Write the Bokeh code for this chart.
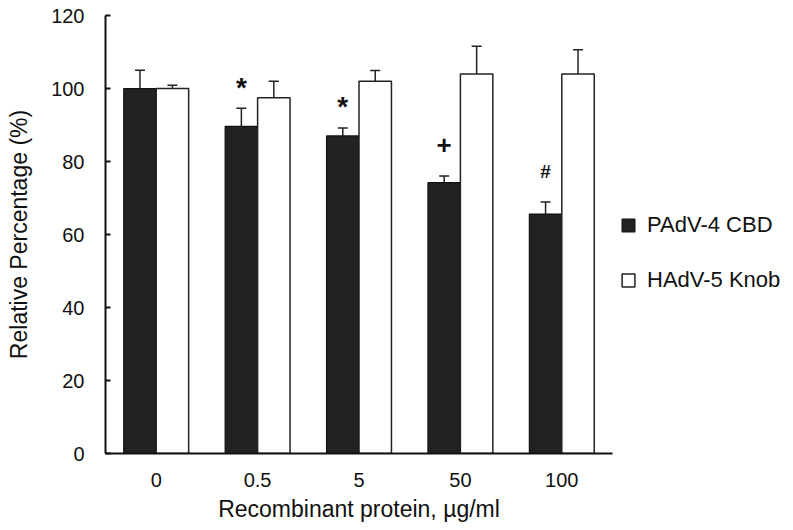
from bokeh.plotting import figure
from bokeh.models import (ColumnDataSource, FactorRange, Range1d, Whisker, TeeHead,
                          Legend, LegendItem, FixedTicker)
from bokeh.transform import dodge
from bokeh.core.properties import value
from bokeh.embed import file_html
from bokeh.resources import INLINE

categories = ["0", "0.5", "5", "50", "100"]
cbd_values = [100, 89.6, 87.0, 74.2, 65.6]
cbd_errors = [5.0, 5.0, 2.2, 1.8, 3.3]
knob_values = [100, 97.5, 102, 104, 104]
knob_errors = [0.9, 4.5, 2.9, 7.6, 6.6]
y_ticks = [0, 20, 40, 60, 80, 100, 120]
mark_cats = ["0.5", "5", "50", "100"]
mark_texts = ["*", "*", "+", "#"]
mark_y = [100.3, 95.1, 84.5, 77.2]
mark_sizes = ["28px", "28px", "26px", "19px"]

FONT = "Liberation Sans"

src = ColumnDataSource(dict(
    cat=categories,
    cbd=cbd_values,
    cbd_up=[v + e for v, e in zip(cbd_values, cbd_errors)],
    knob=knob_values,
    knob_up=[v + e for v, e in zip(knob_values, knob_errors)],
))

p = figure(x_range=FactorRange(*categories), y_range=Range1d(0, 120),
           frame_width=507, frame_height=438, output_backend="svg", toolbar_location=None,
           min_border_left=105, min_border_right=0, min_border_top=15,
           min_border_bottom=5)
p.outline_line_color = None
p.xgrid.grid_line_color = None
p.ygrid.grid_line_color = None
p.background_fill_color = "white"

bw = 0.32
r_cbd = p.vbar(x=dodge("cat", -bw / 2, range=p.x_range), top="cbd", width=bw, bottom=0,
               source=src, fill_color="#222222", line_color="#111111", line_width=1.2)
r_knob = p.vbar(x=dodge("cat", bw / 2, range=p.x_range), top="knob", width=bw, bottom=0,
                source=src, fill_color="white", line_color="#222222", line_width=1.5)

for off, lo, up in [(-bw / 2, "cbd", "cbd_up"), (bw / 2, "knob", "knob_up")]:
    w = Whisker(base=dodge("cat", off, range=p.x_range), lower=lo, upper=up, source=src,
                dimension="height", lower_head=None,
                upper_head=TeeHead(size=10, line_width=1.5, line_color="#222222"),
                line_width=1.5, line_color="#222222")
    p.add_layout(w)

msrc = ColumnDataSource(dict(cat=mark_cats, txt=mark_texts, y=mark_y, size=mark_sizes))
p.text(x=dodge("cat", -bw / 2, range=p.x_range), y="y", text="txt", source=msrc,
       text_align="center", text_baseline="middle", text_font=value(FONT),
       text_font_style="bold", text_font_size="size", text_color="#111111")

# axes
p.yaxis.ticker = FixedTicker(ticks=y_ticks)
p.yaxis.minor_tick_line_color = None
p.yaxis.major_tick_in = 5
p.yaxis.major_tick_out = 0
p.yaxis.major_tick_line_width = 2
p.yaxis.major_tick_line_color = "#111111"
p.yaxis.axis_line_width = 2
p.yaxis.major_label_standoff = 21
p.yaxis.axis_label = "Relative Percentage (%)"
p.yaxis.axis_label_standoff = 16
p.yaxis.axis_label_text_font_size = "23px"

p.xaxis.major_tick_line_color = None
p.xaxis.major_tick_in = 0
p.xaxis.major_tick_out = 0
p.xaxis.axis_line_width = 2
p.xaxis.major_label_standoff = 19
p.xaxis.axis_label = "Recombinant protein, µg/ml"
p.xaxis.axis_label_standoff = 6
p.xaxis.axis_label_text_font_size = "23px"

for ax in (p.xaxis[0], p.yaxis[0]):
    ax.axis_line_color = "#111111"
    ax.major_label_text_font = FONT
    ax.major_label_text_font_size = "20px"
    ax.major_label_text_color = "#111111"
    ax.axis_label_text_font = FONT
    ax.axis_label_text_font_style = "normal"
    ax.axis_label_text_color = "#111111"

legend = Legend(items=[LegendItem(label="PAdV-4 CBD", renderers=[r_cbd]),
                       LegendItem(label="HAdV-5 Knob", renderers=[r_knob])],
                location=(8, 160), orientation="vertical",
                glyph_width=16, glyph_height=16, label_standoff=11,
                spacing=29, padding=0, margin=11,
                border_line_color=None, background_fill_alpha=0,
                label_text_font=FONT, label_text_font_size="22px",
                label_text_color="#111111")
p.add_layout(legend, "right")

open("out.html", "w").write(file_html(p, INLINE))
